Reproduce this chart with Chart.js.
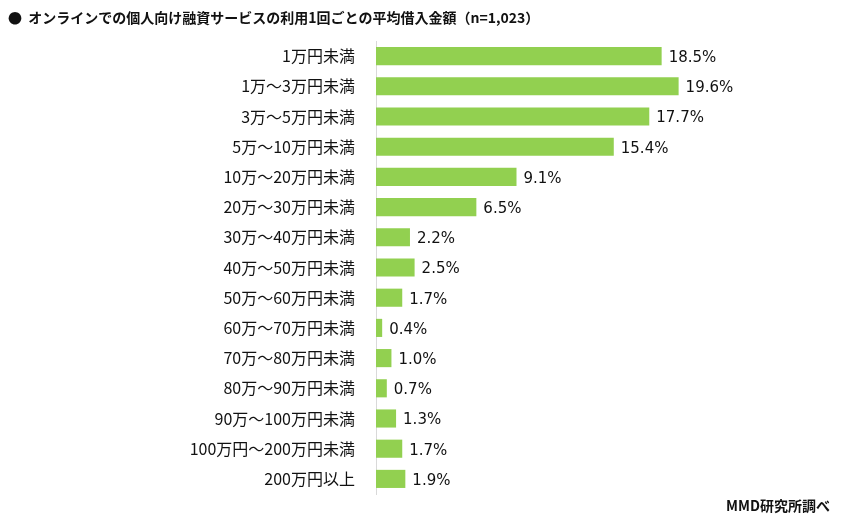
<!DOCTYPE html>
<html>
<head>
<meta charset="utf-8">
<script src="https://cdn.jsdelivr.net/npm/chart.js@4"></script>
<style>
  body { margin: 0; background: #fff; }
  #wrap { position: relative; width: 841px; height: 523px; }
  .txt {
    position: absolute;
    font-family: "Noto Sans CJK JP", sans-serif;
    font-weight: bold;
    color: #111;
    white-space: nowrap;
  }
  #title { left: 8px; top: 7px; font-size: 14px; }
  #source { right: 11px; top: 495px; font-size: 14px; }
</style>
</head>
<body>
<div id="wrap">
  <canvas id="chart" width="841" height="523"></canvas>
  <div id="title" class="txt">●&nbsp;&nbsp;オンラインでの個人向け融資サービスの利用1回ごとの平均借入金額（n=1,023）</div>
  <div id="source" class="txt">MMD研究所調べ</div>
</div>
<script>
// categories and values (percent)
const categories = [
  "1万円未満", "1万～3万円未満", "3万～5万円未満", "5万～10万円未満",
  "10万～20万円未満", "20万～30万円未満", "30万～40万円未満", "40万～50万円未満",
  "50万～60万円未満", "60万～70万円未満", "70万～80万円未満", "80万～90万円未満",
  "90万～100万円未満", "100万円～200万円未満", "200万円以上"
];
const shares = [18.5, 19.6, 17.7, 15.4, 9.1, 6.5, 2.2, 2.5, 1.7, 0.4, 1.0, 0.7, 1.3, 1.7, 1.9];

const labelFont = '15px "DejaVu Sans", sans-serif';

// write the value to the right of each bar
const valueLabels = {
  id: "valueLabels",
  afterDatasetsDraw(chart) {
    const ctx = chart.ctx;
    const meta = chart.getDatasetMeta(0);
    ctx.save();
    ctx.font = labelFont;
    ctx.fillStyle = "#111";
    ctx.textAlign = "left";
    ctx.textBaseline = "middle";
    meta.data.forEach((bar, i) => {
      ctx.fillText(shares[i].toFixed(1) + "%", bar.x + 7, bar.y + 2);
    });
    ctx.restore();
  }
};

new Chart(document.getElementById("chart"), {
  type: "bar",
  data: {
    labels: categories,
    datasets: [{
      data: shares,
      backgroundColor: "#92D050",
      barPercentage: 0.6,
      categoryPercentage: 1
    }]
  },
  options: {
    indexAxis: "y",
    responsive: false,
    animation: false,
    layout: { padding: { top: 41, bottom: 29, right: 79, left: 0 } },
    plugins: { legend: { display: false }, tooltip: { enabled: false } },
    scales: {
      x: { display: false, min: 0, max: 25 },
      y: {
        grid: { display: false },
        border: { display: true, color: "#d9d9d9", width: 1 },
        ticks: {
          color: "#111",
          padding: 13,
          font: { family: '"Noto Sans CJK JP", sans-serif', size: 16 }
        },
        afterFit(scale) { scale.width = 376; }
      }
    }
  },
  plugins: [valueLabels]
});
</script>
</body>
</html>
